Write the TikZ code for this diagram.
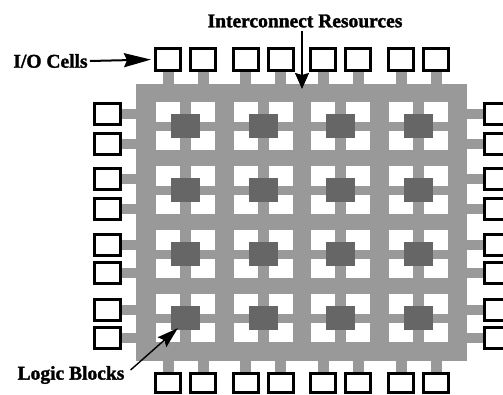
\documentclass[tikz,border=0pt]{standalone}
\usepackage{fontspec}
\setmainfont{Liberation Serif}[BoldFeatures={FakeBold=1.6}]
\usetikzlibrary{arrows.meta,calc}
\definecolor{wire}{HTML}{999999}
\definecolor{blk}{HTML}{666666}
\begin{document}
\begin{tikzpicture}[x=1pt,y=-1pt,
  iocell/.style={draw=black,line width=3pt,fill=white,inner sep=0pt,minimum width=25pt,minimum height=22pt},
  sidecell/.style={iocell,minimum width=26pt,minimum height=21pt},
  logic/.style={fill=blk,inner sep=0pt,minimum width=29pt,minimum height=24pt},
  lbl/.style={font=\bfseries\fontsize{19.5}{20}\selectfont,inner sep=0pt},
  pointer/.style={line width=2pt,-{Stealth[length=27pt,width=14pt,inset=3pt]}},
  downptr/.style={line width=2pt,-{Stealth[length=16pt,width=14pt,inset=2pt]}},
  lbptr/.style={line width=1.4pt,-{Stealth[length=21pt,width=13pt,inset=3pt]}}]
\useasboundingbox (0,0) rectangle (503,394);
\clip (0,0) rectangle (503,394);
% stubs to the I/O cells
\foreach \i in {0,...,3}{
  \pgfmathsetmacro\X{156+77.67*\i}
  \foreach \d in {12,47}{
    \fill[wire] (\X+\d-5.5,71) rectangle ++(11,13);
    \fill[wire] (\X+\d-5.5,360) rectangle ++(11,12);
  }
}
\foreach \j in {0,...,3}{
  \pgfmathsetmacro\Y{102+64*\j}
  \pgfmathsetmacro\ya{\Y+12+1.3*\j}
  \pgfmathsetmacro\yb{\Y+42+0.7*\j}
  \fill[wire] (120,\ya-5) rectangle (137,\ya+5);
  \fill[wire] (120,\yb-5) rectangle (137,\yb+5);
  \fill[wire] (466,\ya-5) rectangle (484,\ya+5);
  \fill[wire] (466,\yb-5) rectangle (484,\yb+5);
}
% interconnect fabric
\fill[wire] (136,83.5) rectangle (467,361);
\foreach \i in {0,...,3}{
  \pgfmathsetmacro\X{156+77.67*\i}
  \foreach \j in {0,...,3}{
    \pgfmathsetmacro\Y{102+64*\j}
    \fill[white] (\X,\Y) rectangle (\X+24,\Y+19.5);
    \fill[white] (\X+35,\Y) rectangle (\X+59,\Y+19.5);
    \fill[white] (\X,\Y+28.5) rectangle (\X+24,\Y+48);
    \fill[white] (\X+35,\Y+28.5) rectangle (\X+59,\Y+48);
    \node[logic] (lb\i\j) at (\X+29.5,\Y+24) {};
  }
}
% I/O cells
\foreach \i in {0,...,3}{
  \pgfmathsetmacro\X{156+77.67*\i}
  \node[iocell] (top\i a) at (\X+12,59.5) {};
  \node[iocell] (top\i b) at (\X+47,59.5) {};
  \node[iocell,minimum height=19pt] (bot\i a) at (\X+12,383) {};
  \node[iocell,minimum height=19pt] (bot\i b) at (\X+47,383) {};
}
\foreach \j in {0,...,3}{
  \pgfmathsetmacro\Y{102+64*\j}
  \pgfmathsetmacro\ya{\Y+12+1.3*\j}
  \pgfmathsetmacro\yb{\Y+42+0.7*\j}
  \node[sidecell] (left\j a) at (107.5,\ya) {};
  \node[sidecell] (left\j b) at (107.5,\yb) {};
  \node[sidecell] (right\j a) at (497,\ya) {};
  \node[sidecell] (right\j b) at (497,\yb) {};
}
% labels and pointers
\node[lbl] (icr) at (305,21) {Interconnect Resources};
\coordinate (icrtip) at (302,89);
\draw[downptr] ($(icr.south -| icrtip)+(0,3)$) -- (icrtip);
\node[lbl] (io) at (50.5,61) {I/O Cells};
\draw[pointer,shorten >=3pt] ($(io.east)+(2,0)$) -- (top0a.west);
\node[lbl] (lbk) at (71,375) {Logic Blocks};
\coordinate (lbtip) at ($(lb03.south west)+(7,-2)$);
\draw[lbptr] ($(lbk.east)+(6,-5)$) -- (lbtip);
\end{tikzpicture}
\end{document}
